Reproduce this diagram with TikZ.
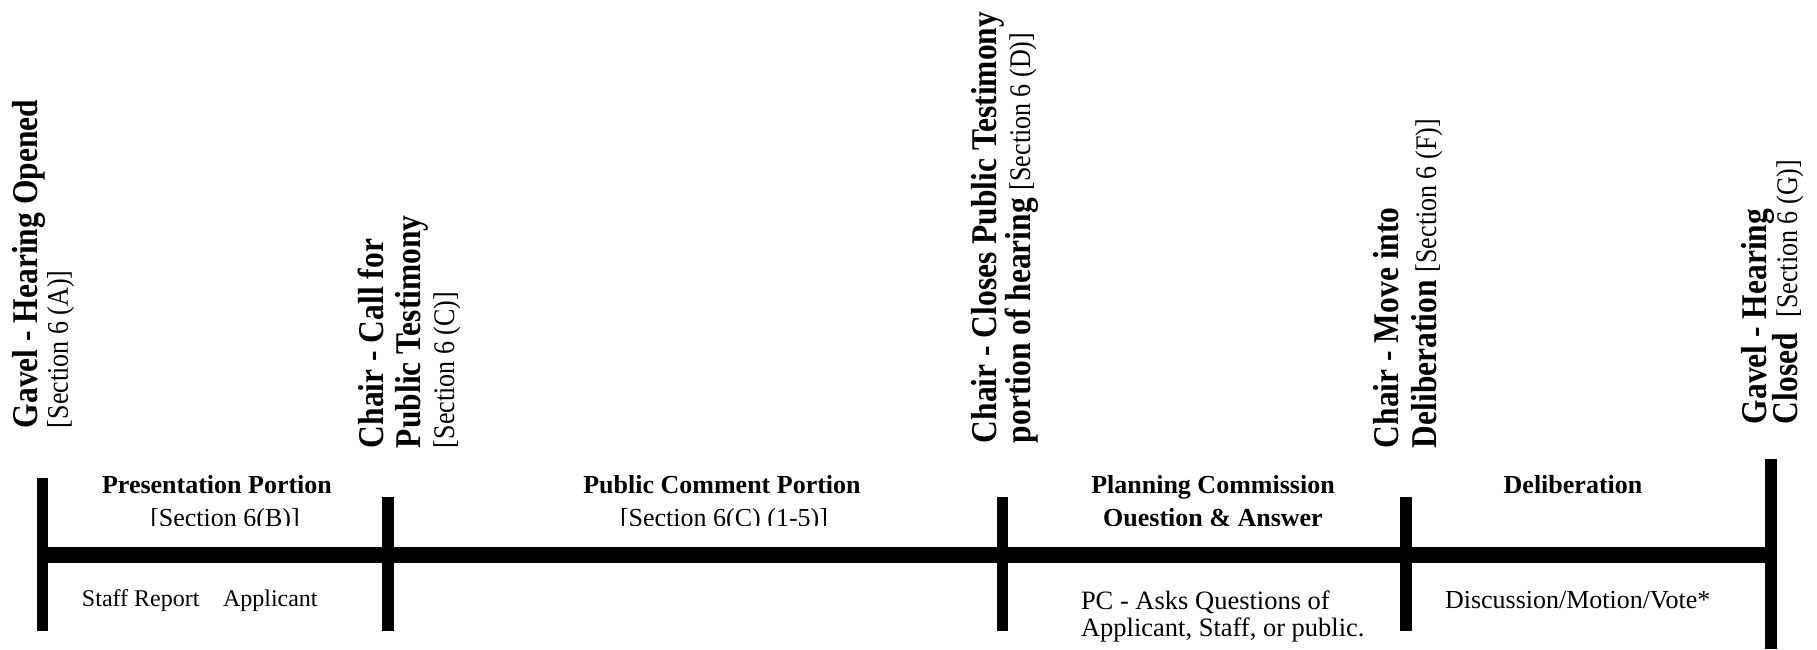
\documentclass[tikz,border=0pt]{standalone}
\usepackage{fontspec}
\setmainfont{Liberation Serif}
\usepackage{graphicx}
\newcommand{\vbd}{\fontsize{15.75}{17}\selectfont\bfseries}
\newcommand{\vrg}{\fontsize{13}{14}\selectfont\mdseries}
\newcommand{\vtxt}[1]{\scalebox{1}[1.15]{#1}}
\tikzset{
  barfill/.style={fill=black, draw=none},
  lbl/.style={inner sep=0pt, outer sep=0pt},
  vlbl/.style={lbl, anchor=base west, rotate=90},
  hhead/.style={lbl, anchor=base, font=\fontsize{13}{15}\selectfont\bfseries},
  hsec/.style={lbl, anchor=base, font=\fontsize{13}{15}\selectfont},
  hnote/.style={lbl, anchor=base west, font=\fontsize{13.25}{15}\selectfont},
}
\begin{document}
\begin{tikzpicture}[x=0.5pt, y=-0.5pt]
\useasboundingbox (0,0) rectangle (1817,649);
\fill[white] (0,0) rectangle (1817,649);

% timeline and ticks
\fill[barfill] (37,547) rectangle (1777,563);
\fill[barfill] (37,478) rectangle (48,631);
\fill[barfill] (382,497) rectangle (394,631);
\fill[barfill] (997,497) rectangle (1008,631);
\fill[barfill] (1400,497) rectangle (1412,631);
\fill[barfill] (1765,459) rectangle (1777,649);

% rotated event labels
\node[vlbl] (l1a) at (37,428) {\vtxt{\vbd Gavel - Hearing Opened}};
\node[vlbl] (l1b) at (68,428) {\vtxt{\vrg [Section 6 (A)]}};

\node[vlbl] (l2a) at (383,448) {\vtxt{\vbd Chair - Call for}};
\node[vlbl] (l2b) at (420,448) {\vtxt{\vbd Public Testimony}};
\node[vlbl] (l2c) at (454,448) {\vtxt{\vrg [Section 6 (C)]}};

\node[vlbl] (l3a) at (996,443) {\vtxt{\vbd Chair - Closes Public Testimony}};
\node[vlbl] (l3b) at (1030,443) {\vtxt{{\vbd portion of hearing }{\vrg [Section 6 (D)]}}};

\node[vlbl] (l4a) at (1398,448) {\vtxt{\vbd Chair - Move into}};
\node[vlbl] (l4b) at (1436,448) {\vtxt{{\vbd Deliberation }{\vrg [Section 6 (F)]}}};

\node[vlbl] (l5a) at (1766,424) {\vtxt{\vbd Gavel - Hearing}};
\node[vlbl] (l5b) at (1797,424) {\vtxt{{\vbd Closed\ \ }{\vrg [Section 6 (G)]}}};

% portion headings
\node[hhead] (p1) at (217,493) {Presentation Portion};
\node[hhead] (p2) at (722,493) {Public Comment Portion};
\node[hhead] (p3) at (1213,493) {Planning Commission};
\node[hhead] (p4) at (1573,493) {Deliberation};
\begin{scope}
  \clip (0,0) rectangle (1817,525);
  \node[hsec] (s1) at (225,526) {[Section 6(B)]};
  \node[hsec] (s2) at (724,526) {[Section 6(C) (1-5)]};
  \node[hhead] (p3b) at (1213,526) {Question \& Answer};
\end{scope}

% notes below the line
\node[lbl, anchor=base west, font=\fontsize{12}{14}\selectfont] (n1) at (82,606) {Staff Report};
\node[lbl, anchor=base west, font=\fontsize{12}{14}\selectfont] (n2) at (223,606) {Applicant};
\node[hnote] (n3) at (1081,609) {PC - Asks Questions of};
\node[hnote] (n4) at (1081,636) {Applicant, Staff, or public.};
\node[hnote, font=\fontsize{13}{15}\selectfont] (n5) at (1445,608) {Discussion/Motion/Vote*};
\end{tikzpicture}
\end{document}
